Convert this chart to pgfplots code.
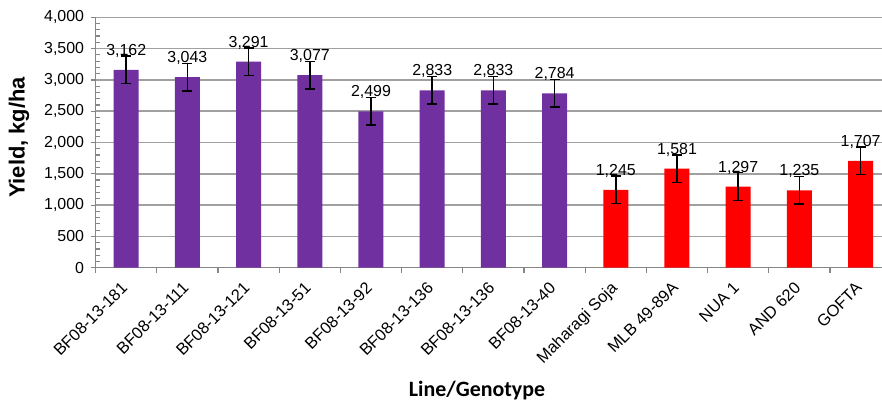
\documentclass[border=0pt]{standalone}
\usepackage{fontspec}
\setmainfont{Liberation Sans}
\newfontfamily\calibri{Carlito}
\usepackage{pgfplots}
\pgfplotsset{compat=1.18}

\definecolor{barpurple}{HTML}{7030A0}
\definecolor{barred}{HTML}{FF0000}
\definecolor{gridgray}{HTML}{A0A0A0}
\definecolor{axisgray}{HTML}{868686}

\pgfplotstableread{
x y e
0 3162 220
1 3043 220
2 3291 220
3 3077 220
4 2499 220
5 2833 220
6 2833 220
7 2784 220
}\purpletab
\pgfplotstableread{
x y e
8 1245 220
9 1581 220
10 1297 220
11 1235 220
12 1707 220
}\redtab

\begin{document}
\begin{tikzpicture}
\useasboundingbox (-95.6bp,-135.3bp) rectangle (786.4bp,267.7bp);
\begin{axis}[
  at={(0,0)}, anchor=south west,
  scale only axis, width=786.4bp, height=250.4bp,
  xmin=-0.5, xmax=12.35, ymin=0, ymax=4000,
  axis x line*=bottom, axis y line*=left,
  axis line style={-, draw=axisgray, line width=1.5bp},
  ymajorgrids, major grid style={draw=gridgray, line width=1.5bp},
  ytick={0,500,...,4000},
  tick align=outside,
  major tick length=5bp,
  tick style={draw=axisgray, line width=1.2bp},
  extra y ticks={100,200,300,400,600,700,800,900,1100,1200,1300,1400,1600,1700,1800,1900,2100,2200,2300,2400,2600,2700,2800,2900,3100,3200,3300,3400,3600,3700,3800,3900},
  extra y tick labels={},
  extra y tick style={ymajorgrids=false, major tick length=4bp, tick align=inside},
  xtick={0,1,2,3,4,5,6,7,8,9,10,11,12},
  xticklabels={BF08-13-181,BF08-13-111,BF08-13-121,BF08-13-51,BF08-13-92,BF08-13-136,BF08-13-136,BF08-13-40,Maharagi Soja,MLB 49-89A,NUA 1,AND 620,GOFTA},
  major x tick style={draw=none},
  minor xtick={-0.5,0.5,1.5,2.5,3.5,4.5,5.5,6.5,7.5,8.5,9.5,10.5,11.5},
  minor tick length=5bp,
  minor x tick style={draw=axisgray, line width=1.2bp},
  xticklabel style={font=\fontsize{16.5}{16.5}\selectfont, inner sep=0pt, xshift=-6bp, yshift=-8bp, rotate=45, anchor=north east},
  yticklabel style={font=\fontsize{16}{16}\selectfont, xshift=-3bp},
  /pgf/number format/.cd, fixed, precision=0, 1000 sep={,}, assume math mode=true,
  /pgfplots/.cd,
  ylabel={Yield, kg/ha},
  every axis y label/.style={at={(axis description cs:-0.0974,0.52)}, rotate=90, anchor=center, font=\bfseries\fontsize{22}{22}\selectfont},
  xlabel={Line/Genotype},
  every axis x label/.style={at={(axis description cs:0.485,-0.516)}, anchor=base, font=\calibri\bfseries\fontsize{22}{22}\selectfont},
]
\addplot[ybar, bar width=25bp, bar shift=0pt, fill=barpurple, draw=none,
  nodes near coords,
  every node near coord/.append style={font=\fontsize{16}{16}\selectfont, anchor=base, yshift=14.5bp, text=black}]
  table[x=x, y=y] {\purpletab};
\addplot[ybar, bar width=25bp, bar shift=0pt, fill=barred, draw=none,
  nodes near coords,
  every node near coord/.append style={font=\fontsize{16}{16}\selectfont, anchor=base, yshift=14.5bp, text=black}]
  table[x=x, y=y] {\redtab};
\addplot[forget plot, draw=none, mark=none,
  error bars/.cd, y dir=both, y explicit, error mark=-,
  error bar style={draw=black, line width=1.5bp},
  error mark options={draw=black, line width=1.5bp, mark size=5bp, rotate=90}]
  table[x=x, y=y, y error=e] {\purpletab};
\addplot[forget plot, draw=none, mark=none,
  error bars/.cd, y dir=both, y explicit, error mark=-,
  error bar style={draw=black, line width=1.5bp},
  error mark options={draw=black, line width=1.5bp, mark size=5bp, rotate=90}]
  table[x=x, y=y, y error=e] {\redtab};
\end{axis}
\end{tikzpicture}
\end{document}
